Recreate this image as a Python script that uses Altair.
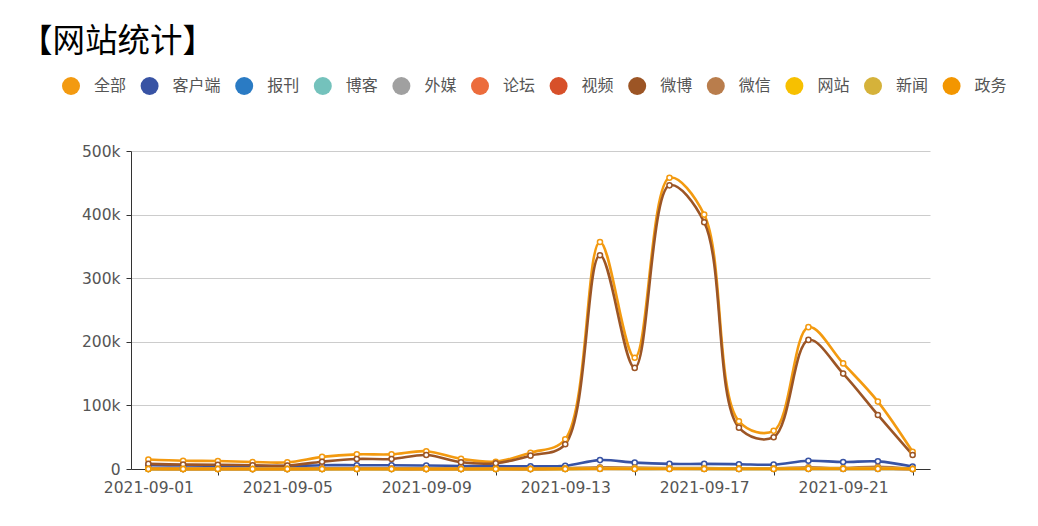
import altair as alt
import pandas as pd

dates = ["2021-09-01", "2021-09-02", "2021-09-03", "2021-09-04", "2021-09-05",
         "2021-09-06", "2021-09-07", "2021-09-08", "2021-09-09", "2021-09-10",
         "2021-09-11", "2021-09-12", "2021-09-13", "2021-09-14", "2021-09-15",
         "2021-09-16", "2021-09-17", "2021-09-18", "2021-09-19", "2021-09-20",
         "2021-09-21", "2021-09-22", "2021-09-23"]

label_dates = ["2021-09-01", "2021-09-05", "2021-09-09", "2021-09-13", "2021-09-17", "2021-09-21"]
tick_dates = ["2021-09-03", "2021-09-07", "2021-09-11", "2021-09-15", "2021-09-19", "2021-09-23"]

series_names = ["全部", "客户端", "报刊", "博客", "外媒", "论坛", "视频", "微博", "微信", "网站", "新闻", "政务"]
series_colors = ["#f39a10", "#3853a4", "#2a7bc4", "#74c2bc", "#a0a0a0", "#ec6c3c",
                 "#d7502a", "#9c5525", "#b97d4c", "#f7c000", "#d5b23a", "#f39600"]

quanbu = [15000, 13000, 12500, 11000, 10500, 19000, 23000, 23000, 28000, 16000, 11500, 25600,
          46700, 357000, 175000, 458000, 400000, 75000, 60000, 223000, 166000, 106000, 27000]
kehuduan = [5800, 5500, 5000, 4800, 4500, 6000, 6000, 6000, 5500, 4800, 4500, 4200,
            5000, 14000, 10000, 8000, 8000, 7500, 7000, 13000, 11000, 12000, 4000]
baokan = [200, 200, 100, 100, 100, 200, 300, 200, 300, 200, 100, 200,
          300, 800, 500, 600, 500, 300, 300, 500, 400, 400, 100]
boke = [100, 100, 100, 0, 0, 100, 100, 100, 100, 100, 0, 100,
        100, 300, 200, 300, 200, 100, 100, 200, 200, 200, 100]
waimei = [0, 0, 0, 0, 0, 0, 100, 0, 0, 0, 0, 0,
          0, 200, 100, 100, 100, 0, 0, 100, 100, 100, 0]
luntan = [300, 200, 200, 100, 100, 300, 300, 300, 200, 200, 300, 200,
          400, 900, 600, 700, 600, 400, 300, 700, 600, 800, 100]
shipin = [200, 100, 100, 100, 100, 200, 200, 200, 100, 100, 200, 100,
          300, 600, 500, 600, 500, 300, 300, 600, 500, 900, 100]
weibo = [8000, 7000, 6800, 6000, 5500, 11500, 15700, 15700, 22000, 10500, 9000, 21000,
         39000, 336000, 159000, 446000, 388000, 65000, 50000, 203000, 150000, 85000, 22000]
weixin = [500, 100, 200, 0, 200, 600, 300, 400, 0, 300, 600, 0,
          1200, 2500, 2200, 1400, 1300, 700, 1000, 2500, 1600, 3400, 300]
wangzhan = [100, 100, 100, 0, 100, 100, 100, 100, 0, 100, 100, 0,
            200, 800, 600, 500, 500, 400, 400, 800, 700, 1100, 100]
xinwen = [100, 0, 0, 0, 0, 100, 100, 100, 0, 0, 100, 0,
          100, 500, 400, 300, 300, 200, 200, 400, 400, 600, 100]
zhengwu = [0, 0, 0, 0, 0, 0, 0, 0, 0, 0, 0, 0,
           100, 200, 100, 100, 100, 100, 100, 200, 200, 200, 0]

all_values = [quanbu, kehuduan, baokan, boke, waimei, luntan, shipin,
              weibo, weixin, wangzhan, xinwen, zhengwu]

rows = []
for name, vals in zip(series_names, all_values):
    for d, v in zip(dates, vals):
        rows.append({"date": d, "series": name, "value": v})
df = pd.DataFrame(rows)

FONT_CJK = "Noto Sans CJK SC"
FONT_AX = "DejaVu Sans"

color_scale = alt.Scale(domain=series_names, range=series_colors)
x_scale = alt.Scale(type="point", padding=0.5, domain=dates)
y_scale = alt.Scale(domain=[0, 500000], nice=False)

y_axis = alt.Axis(values=[0, 100000, 200000, 300000, 400000, 500000],
                  labelExpr="datum.value == 0 ? '0' : (datum.value / 1000) + 'k'",
                  title=None, grid=True, gridColor="#cccccc", gridWidth=1,
                  domain=True, domainColor="#333333", tickColor="#333333", tickSize=5,
                  labelFont=FONT_AX, labelFontSize=15.5, labelColor="#555555", labelPadding=6)

x_axis_labels = alt.Axis(values=label_dates, title=None, grid=False, ticks=False,
                         domain=True, domainColor="#333333", orient="bottom",
                         labelFont=FONT_AX, labelFontSize=15.5, labelColor="#555555",
                         labelAngle=0, labelPadding=11)
x_axis_ticks = alt.Axis(values=tick_dates, title=None, grid=False, ticks=True, labels=False,
                        domain=False, tickColor="#333333", tickSize=6, tickWidth=1,
                        orient="bottom")
x_axis_hidden = alt.Axis(values=tick_dates, title=None, grid=False, ticks=False, labels=False,
                         domain=False, orient="bottom")

legend_spec = alt.Legend(title=None, orient="none", direction="horizontal",
                         legendX=-69, legendY=-74, symbolType="circle",
                         symbolSize=324, symbolOpacity=1, symbolStrokeWidth=0,
                         symbolFillColor="#888888",
                         labelFont=FONT_CJK, labelFontSize=16, labelColor="#555555",
                         labelOffset=14, columnPadding=13.6, labelLimit=200)

base = alt.Chart(df)

legend_layer = base.mark_circle(opacity=0, size=1).encode(
    x=alt.X("date:O", scale=x_scale, axis=x_axis_hidden, sort=dates),
    y=alt.Y("value:Q", scale=y_scale, axis=y_axis),
    color=alt.Color("series:N", scale=color_scale, sort=series_names, legend=legend_spec),
)

lines = base.mark_line(interpolate="catmull-rom", strokeWidth=2.6).encode(
    x=alt.X("date:O", scale=x_scale, axis=x_axis_labels, sort=dates),
    y=alt.Y("value:Q", scale=y_scale, axis=y_axis),
    color=alt.Color("series:N", scale=color_scale, sort=series_names, legend=legend_spec),
    detail="series:N",
)

points = base.mark_point(filled=False, fill="white", strokeWidth=1.5, size=26, opacity=1).encode(
    x=alt.X("date:O", scale=x_scale, axis=x_axis_ticks, sort=dates),
    y=alt.Y("value:Q", scale=y_scale, axis=y_axis),
    color=alt.Color("series:N", scale=color_scale, sort=series_names, legend=legend_spec),
)

chart = alt.layer(legend_layer, lines, points).resolve_axis(x="independent").properties(
    width=799, height=318,
    title=alt.TitleParams(text="【网站统计】", anchor="start", frame="group", fontSize=32.5,
                          font=FONT_CJK, color="#000000", fontWeight="normal", dx=-111, offset=19),
    autosize=alt.AutoSizeParams(type="none"),
    padding={"left": 123, "top": 143, "right": 100, "bottom": 40},
).configure_view(stroke=None)

chart.save("out.html", embed_options={"renderer": "svg", "actions": False})
